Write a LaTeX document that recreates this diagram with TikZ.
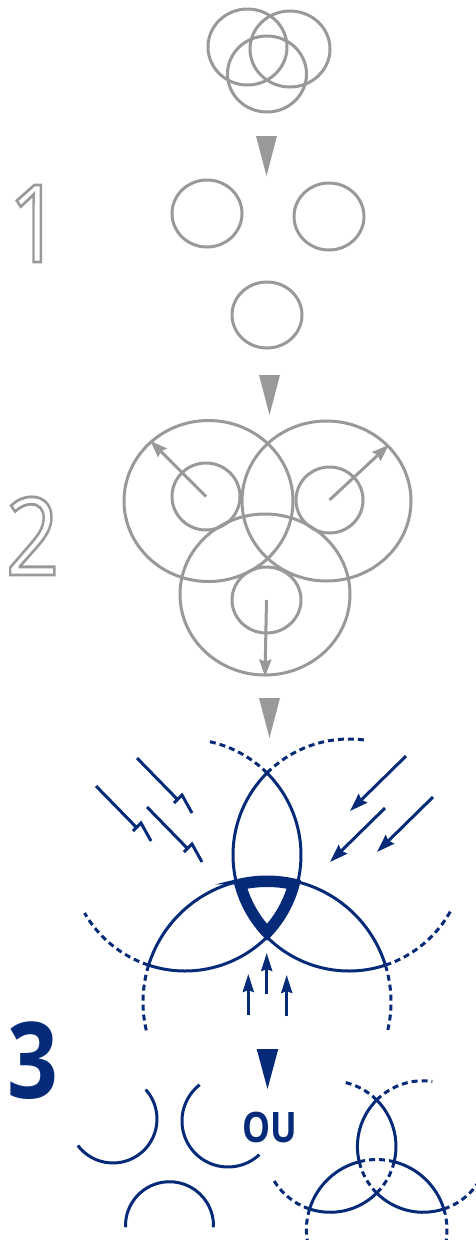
\documentclass[tikz,border=0pt]{standalone}
\usepackage{fontspec}
\usetikzlibrary{arrows.meta,shapes.geometric}

\newfontfamily\stepfont{Open Sans}

\definecolor{stepgray}{RGB}{153,153,153}
\definecolor{knotblue}{RGB}{5,42,120}

% stroked (hollow) glyphs
\newcommand{\hollow}[1]{\special{pdf:literal direct 1 Tr 2.8 w}#1\special{pdf:literal direct 0 Tr}}

\tikzset{
  ring/.style={draw=stepgray, line width=3pt, ellipse, inner sep=0pt},
  push/.style={stepgray, line width=3pt, -{Stealth[length=17pt, width=12pt, inset=2pt]}},
  knot/.style={knotblue, line width=3pt},
  cut/.style={knotblue, line width=3pt, dash pattern=on 6pt off 4pt},
  force/.style={knotblue, line width=3pt, -{Stealth[length=18pt, width=12pt, inset=2pt]}},
  bolt/.style={knotblue, line width=3pt, line join=miter},
  numeral/.style={font=\stepfont\fontsize{108}{108}\selectfont, inner sep=0pt, anchor=base}
}

% arc of one knot circle: [style]{centre}{from}{to}{radius}
\newcommand{\knotarc}[5][knot]{\draw[#1] (#2) ++(#3:#5) arc[start angle=#3, end angle=#4, radius=#5];}

% outer parts of the three circles
\newcommand{\knotlines}{%
  \knotarc{185,855}{-45}{13.4}{116}
  \knotarc{185,855}{45}{108.3}{116}
  \knotarc{349,855}{166.6}{225}{116}
  \knotarc{349,855}{71.7}{135}{116}
  \knotarc{267,1002}{197.3}{255.6}{124}
  \knotarc{267,1002}{284.4}{342.7}{124}
  \knotarc[cut]{185,855}{-45}{-79}{116}
  \knotarc[cut]{185,855}{108.3}{150}{116}
  \knotarc[cut]{349,855}{225}{278}{116}
  \knotarc[cut]{349,855}{71.7}{28}{116}
  \knotarc[cut]{267,1002}{197.3}{166}{124}
  \knotarc[cut]{267,1002}{342.7}{373}{124}
}

\def\innertri{(267,1002) ++(255.6:124) arc[start angle=255.6, end angle=284.4, radius=124]
  arc[start angle=13.4, end angle=45, radius=116]
  arc[start angle=135, end angle=166.6, radius=116] -- cycle}

\begin{document}
\begin{tikzpicture}[x=1pt, y=-1pt]
\useasboundingbox (0,0) rectangle (475,1240);

% overlapping circles
\node[ring, minimum width=79pt, minimum height=76pt] (ta) at (247.5,47) {};
\node[ring, minimum width=80pt, minimum height=76pt] (tb) at (290,49) {};
\node[ring, minimum width=79pt, minimum height=76pt] (tc) at (267,74) {};

\foreach \x/\y in {256/136, 259/375, 259/698}
  \fill[stepgray] (\x,\y) -- ++(21,0) -- ++(-10.5,40) -- cycle;

% step 1
\node[numeral, text=stepgray] (one) at (35,262) {\scalebox{0.87}[1]{\hollow{1}}};
\node[ring, minimum width=70pt, minimum height=67pt] (sa) at (207,213.5) {};
\node[ring, minimum width=70pt, minimum height=67pt] (sb) at (329,216.5) {};
\node[ring, minimum width=70pt, minimum height=66pt] (sc) at (267,315) {};

% step 2
\node[numeral, text=stepgray] (two) at (32.5,575) {\scalebox{0.87}[1]{\hollow{2}}};
\node[ring, minimum width=169pt, minimum height=161pt] (bl) at (208.5,501) {};
\node[ring, minimum width=169pt, minimum height=160pt] (br) at (326.5,501) {};
\node[ring, minimum width=170pt, minimum height=161pt] (bb) at (265,594.5) {};
\node[ring, minimum width=68pt, minimum height=67pt] (cl) at (206,496.5) {};
\node[ring, minimum width=67pt, minimum height=66pt] (cr) at (329.5,500) {};
\node[ring, minimum width=69pt, minimum height=66pt] (cb) at (266.5,600) {};
\draw[push] (cl.center) -- (bl.134);
\draw[push] (cr.center) -- (br.42);
\draw[push] (cb.center) -- (bb.270);

% step 3
\node[numeral, text=knotblue, font=\stepfont\bfseries\fontsize{106}{106}\selectfont] (three) at (32.5,1098) {\scalebox{0.84}[1]{3}};
\knotlines
\knotarc{185,855}{13.4}{45}{116}
\knotarc{349,855}{135}{166.6}{116}
\knotarc{267,1002}{255.6}{284.4}{124}
\draw[knot, line width=5pt] \innertri;
\begin{scope}
  \clip \innertri;
  \draw[knot, line width=18pt] \innertri;
\end{scope}

\foreach \p in {{137,758},{96,786},{147,807}}
  \draw[bolt] (\p) -- ++(41,42) ++(-4,3) -- ++(8,-8) -- ++(10,18);
\draw[force] (406,756) -- (350,811);
\draw[force] (385,808) -- (330,862);
\draw[force] (433,797) -- (377,852);
\foreach \x/\y/\t in {248.3/1015/974, 266.7/994/953, 286.7/1016/975}
  \draw[force, -{Stealth[length=18pt, width=11pt, inset=2pt]}] (\x,\y) -- (\x,\t);

\fill[knotblue] (256.7,1049) -- ++(21.6,0) -- ++(-10.8,40) -- cycle;

% pieces
\knotarc{113,1119}{-42}{143}{44}
\knotarc{228,1121}{47}{232}{46}
\knotarc{169.5,1225.7}{178}{362}{44}

\node[font=\stepfont\bfseries\fontsize{42}{42}\selectfont, text=knotblue, anchor=base, inner sep=0pt] (ou) at (269.5,1142) {\scalebox{0.84}[1]{OU}};

% small knot, middle left open
\begin{scope}[shift={(376.7,1100)}, scale=0.567, shift={(-267,-773)}]
  \knotlines
  \knotarc[cut]{185,855}{13.4}{45}{116}
  \knotarc[cut]{349,855}{135}{166.6}{116}
  \knotarc[cut]{267,1002}{255.6}{284.4}{124}
\end{scope}
\end{tikzpicture}
\end{document}
